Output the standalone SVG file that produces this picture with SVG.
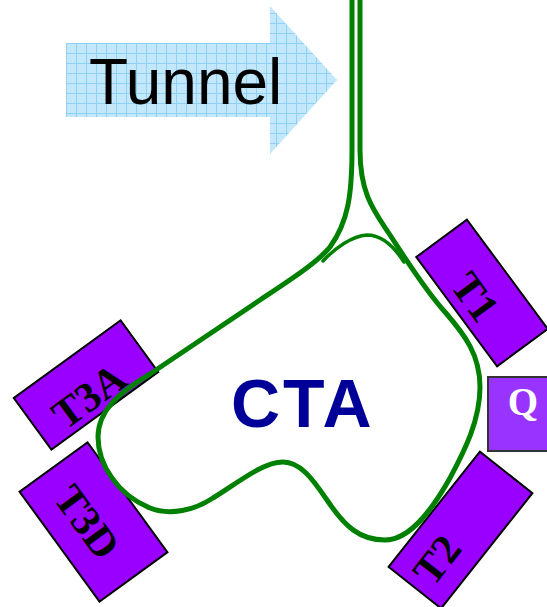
<svg xmlns="http://www.w3.org/2000/svg" width="547" height="607" viewBox="0 0 547 607">
  <defs>
    <pattern id="grid" patternUnits="userSpaceOnUse" x="66" y="43" width="10" height="10">
      <rect width="10" height="10" fill="#c3e7fb"/>
      <path d="M0.5,0V10M0,0.5H10" stroke="#8fd1f6" stroke-width="1"/>
    </pattern>
    <style>
      .box { fill: #9900ff; stroke: #000; stroke-width: 2; }
      .lbl { font-family: "Liberation Serif", "Times New Roman", serif; font-weight: bold; font-size: 42px; text-anchor: middle; fill: #000; }
      .track { fill: none; stroke: #008000; stroke-linecap: round; stroke-linejoin: round; }
    </style>
  </defs>
  <rect width="547" height="607" fill="#fff"/>

  <g id="tunnel">
    <path d="M66,43H270V6L337,80L270,154V117H66Z" fill="url(#grid)"/>
    <text x="89" y="104" font-family="Liberation Sans, Arial, sans-serif" font-size="64" fill="#000">Tunnel</text>
  </g>

  <g id="t1">
    <rect class="box" x="-68" y="-31.5" width="136" height="63" transform="translate(482,293) rotate(53.5)"/>
    <text class="lbl" x="0" y="14" transform="translate(475,297) rotate(54)">T1</text>
  </g>
  <g id="t3a">
    <rect class="box" x="-66" y="-32" width="132" height="64" transform="translate(86,385) rotate(-36)"/>
    <text class="lbl" x="0" y="14" transform="translate(89,396) rotate(-36)">T3A</text>
  </g>
  <g id="t3d">
    <rect class="box" x="-68" y="-42" width="136" height="84" transform="translate(93.5,522) rotate(54)"/>
    <text class="lbl" x="0" y="14" transform="translate(87,522) rotate(54)">T3D</text>
  </g>
  <g id="t2">
    <rect class="box" x="-73.5" y="-33.5" width="147" height="67" transform="translate(460.5,530) rotate(-51.6)"/>
    <text class="lbl" x="0" y="14" transform="translate(437,560) rotate(-52)">T2</text>
  </g>
  <g id="q">
    <rect x="488" y="377" width="62" height="74" fill="#9933ff" stroke="#333" stroke-width="2"/>
    <text class="lbl" x="523" y="415" style="fill:#fff;font-size:39px">Q</text>
  </g>

  <g id="connectors">
    <path class="track" stroke-width="5" d="M352,0L352,150C352,195 348,222 330,247C318,262 290,280 260,300L150,374C120,392 98,410 98,437C98,465 118,495 150,508C170,516 195,510 213,498C235,485 262,462 283,462C300,462 312,478 327,500C345,527 360,540 385,540C410,540 432,510 450,478C465,450 480,420 480,387C480,355 465,335 445,312C425,290 405,258 390,235C375,212 360,195 360,150L360,0"/>
    <path class="track" stroke-width="3.5" d="M323,261C335,248 352,236 367,235C382,235 395,248 404,262"/>
  </g>

  <g id="cta">
    <text x="231" y="427" font-family="Liberation Sans, Arial, sans-serif" font-weight="bold" font-size="68" letter-spacing="3" fill="#000099">CTA</text>
  </g>
</svg>
